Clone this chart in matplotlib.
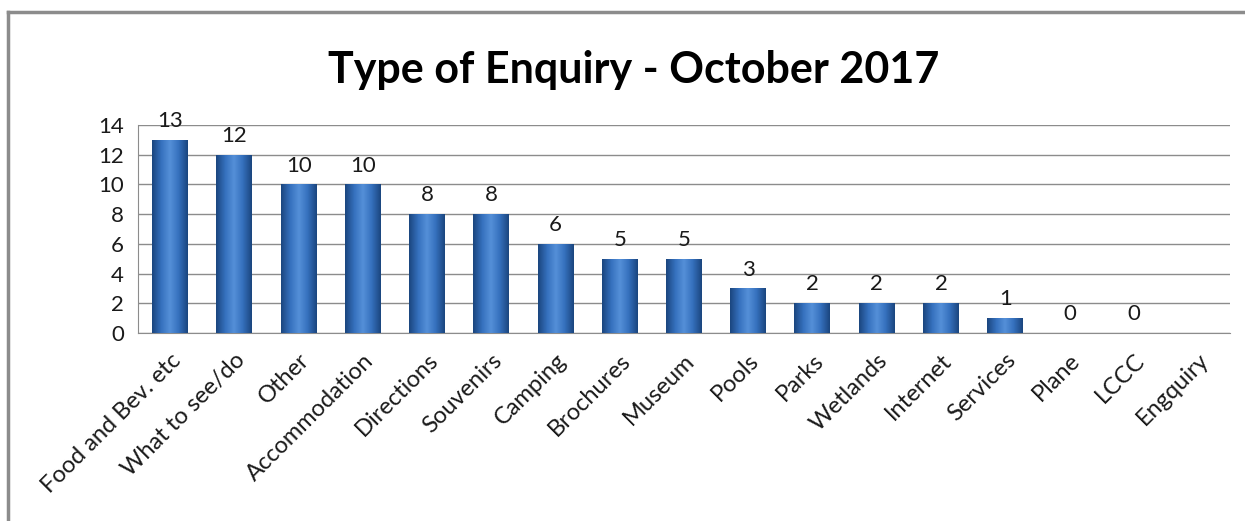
import numpy as np
import matplotlib.pyplot as plt
from matplotlib.colors import LinearSegmentedColormap
from matplotlib.lines import Line2D

# data
categories = ['Food and Bev. etc', 'What to see/do', 'Other', 'Accommodation',
              'Directions', 'Souvenirs', 'Camping', 'Brochures', 'Museum',
              'Pools', 'Parks', 'Wetlands', 'Internet', 'Services', 'Plane',
              'LCCC', 'Engquiry']
counts = [13, 12, 10, 10, 8, 8, 6, 5, 5, 3, 2, 2, 2, 1, 0, 0, np.nan]
y_ticks = [0, 2, 4, 6, 8, 10, 12, 14]

plt.rcParams['font.family'] = ['Lato', 'DejaVu Sans']

fig = plt.figure(figsize=(12.45, 5.21), dpi=100)
ax = fig.add_axes([138 / 1245, 188 / 521, (1230 - 138) / 1245, (333 - 125) / 521])

x = np.arange(len(categories))
vals = np.nan_to_num(np.array(counts, dtype=float))
bars = ax.bar(x, vals, width=0.56, color='#3a72be', zorder=3)

# cylinder-ish shading on each bar
shade = LinearSegmentedColormap.from_list(
    'shade', ['#1b467f', '#3570bd', '#5590d8', '#3570bd', '#1b467f'])
grad = np.linspace(0, 1, 64).reshape(1, -1)
for b in bars:
    if b.get_height() <= 0:
        continue
    im = ax.imshow(grad, cmap=shade, aspect='auto', zorder=4,
                   extent=(b.get_x(), b.get_x() + b.get_width(), 0, b.get_height()))
    im.set_clip_path(b)

for xi, v in zip(x, counts):
    if np.isnan(v):
        continue
    ax.text(xi, v + 0.6, f'{int(v)}', ha='center', va='bottom',
            fontsize=16, color='#1a1a1a', zorder=5)

ax.set_xlim(-0.5, len(categories) - 0.5)
ax.set_ylim(0, 14)
ax.set_yticks(y_ticks)
ax.set_yticklabels([str(t) for t in y_ticks], fontsize=16)
ax.set_xticks(x)
ax.set_xticklabels(categories, rotation=45, ha='right', va='top',
                   rotation_mode='anchor', fontsize=17)
ax.tick_params(length=0, pad=10, colors='#1a1a1a')
ax.tick_params(axis='x', pad=12)
ax.yaxis.grid(True, color='#8c8c8c', lw=1, zorder=1)
for s in ['top', 'right']:
    ax.spines[s].set_visible(False)
ax.spines['left'].set_color('#8c8c8c')
ax.spines['bottom'].set_color('#8c8c8c')

fig.text(634 / 1245, 1 - 70 / 521, 'Type of Enquiry - October 2017',
         ha='center', va='center', fontsize=31, fontweight='bold')

# chart border (runs off the right and bottom edge)
fig.add_artist(Line2D([8 / 1245, 8 / 1245], [0, 1 - 12 / 521],
                      transform=fig.transFigure, color='#8c8c8c', lw=2.5))
fig.add_artist(Line2D([8 / 1245, 1], [1 - 12 / 521, 1 - 12 / 521],
                      transform=fig.transFigure, color='#8c8c8c', lw=2.5))

fig.savefig('out.png', dpi=100)
